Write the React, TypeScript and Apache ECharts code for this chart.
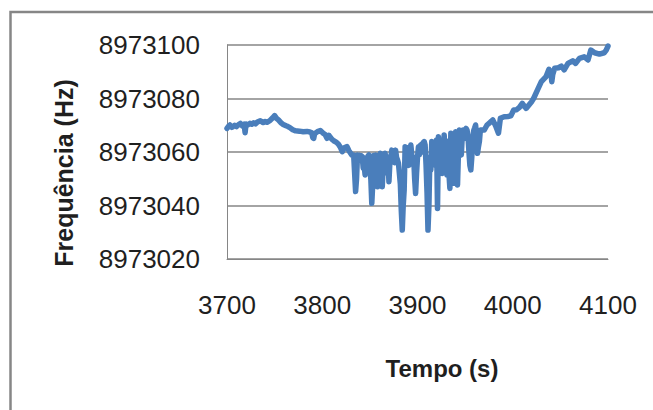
import React, { useEffect, useRef } from "react";
import * as echarts from "echarts";

// Elapsed time (s): slow drift before the disturbance
const timeBefore: number[] = [
  3700, 3702, 3703, 3705, 3706, 3708, 3710, 3712, 3714, 3716,
  3717, 3718, 3719, 3720, 3722, 3724, 3726, 3728, 3730, 3732,
  3735, 3738, 3740, 3742, 3745, 3748, 3750, 3752, 3754, 3757,
  3759, 3762, 3764, 3766, 3769, 3772, 3776, 3780, 3784, 3787,
  3789, 3790, 3791, 3792, 3795, 3798, 3801, 3803, 3805, 3807,
  3810, 3812, 3815, 3817, 3819, 3821, 3823, 3826, 3828,
];
const freqBefore: number[] = [
  8973068.8, 8973069.8, 8973070.1, 8973069.2, 8973069.4, 8973070.0, 8973069.5, 8973070.2, 8973070.7, 8973069.8,
  8973070.3, 8973070.4, 8973067.2, 8973070.5, 8973070.2, 8973070.7, 8973070.4, 8973070.9, 8973070.5, 8973071.2,
  8973071.7, 8973071.0, 8973071.4, 8973071.1, 8973071.7, 8973072.8, 8973073.6, 8973072.6, 8973072.0, 8973070.8,
  8973070.3, 8973069.8, 8973069.5, 8973069.1, 8973068.3, 8973067.9, 8973067.8, 8973067.6, 8973067.7, 8973067.5,
  8973067.2, 8973065.4, 8973065.1, 8973066.8, 8973067.6, 8973068.0, 8973067.0, 8973066.5, 8973065.1, 8973066.2,
  8973064.8, 8973064.2, 8973063.6, 8973062.9, 8973061.8, 8973060.1, 8973061.6, 8973062.0, 8973060.5,
];

// Disturbed interval, one reading per second
const timeDisturbed: number[] = [
  3831, 3833, 3834, 3835, 3836, 3837, 3838, 3839, 3840, 3841,
  3842, 3843, 3844, 3845, 3846, 3847, 3848, 3849, 3850, 3851,
  3852, 3853, 3854, 3855, 3856, 3857, 3858, 3859, 3860, 3861,
  3862, 3863, 3864, 3865, 3866, 3867, 3868, 3869, 3870, 3871,
  3872, 3873, 3874, 3875, 3876, 3877, 3878, 3879, 3880, 3881,
  3882, 3883, 3884, 3885, 3886, 3887, 3888, 3889, 3890, 3891,
  3892, 3893, 3894, 3895, 3896, 3897, 3898, 3899, 3900, 3901,
  3902, 3903, 3904, 3905, 3906, 3907, 3908, 3909, 3910, 3911,
  3912, 3913, 3914, 3915, 3916, 3917, 3918, 3919, 3920, 3921,
  3922, 3923, 3924, 3925, 3926, 3927, 3928, 3929, 3930, 3931,
  3932, 3933, 3934, 3935, 3936, 3937, 3938, 3939, 3940, 3941,
  3942, 3943, 3944, 3945, 3946, 3947, 3948, 3949, 3950, 3951,
  3952, 3953, 3954, 3955, 3956, 3957, 3958, 3959, 3960, 3961,
  3962, 3963, 3964, 3965, 3966,
];
const freqDisturbed: number[] = [
  8973058.9, 8973058.9, 8973052.0, 8973045.2, 8973050.0, 8973058.9, 8973056.5, 8973058.8, 8973057.0, 8973058.6,
  8973058.3, 8973054.0, 8973055.0, 8973051.4, 8973057.8, 8973055.5, 8973058.5, 8973058.9, 8973055.0, 8973050.0,
  8973040.8, 8973048.0, 8973058.7, 8973054.0, 8973058.9, 8973052.0, 8973047.0, 8973056.0, 8973053.0, 8973059.5,
  8973051.0, 8973047.0, 8973055.0, 8973052.0, 8973059.5, 8973056.0, 8973054.0, 8973058.0, 8973048.9, 8973056.0,
  8973058.0, 8973060.7, 8973057.5, 8973059.0, 8973056.0, 8973060.7, 8973058.0, 8973057.0, 8973055.8, 8973052.0,
  8973048.0, 8973038.0, 8973030.8, 8973040.0, 8973045.8, 8973062.0, 8973057.0, 8973061.0, 8973061.5, 8973055.0,
  8973060.5, 8973062.6, 8973059.0, 8973055.8, 8973058.0, 8973050.0, 8973044.5, 8973052.0, 8973058.0, 8973062.0,
  8973059.0, 8973062.5, 8973062.8, 8973060.0, 8973063.5, 8973063.9, 8973062.6, 8973055.0, 8973045.0, 8973030.8,
  8973040.0, 8973058.0, 8973053.3, 8973063.9, 8973055.0, 8973062.0, 8973063.0, 8973057.0, 8973064.5, 8973038.9,
  8973065.7, 8973060.0, 8973058.0, 8973063.0, 8973052.0, 8973057.0, 8973066.4, 8973055.0, 8973060.0, 8973051.4,
  8973064.0, 8973052.0, 8973046.4, 8973067.0, 8973055.0, 8973060.0, 8973048.3, 8973062.0, 8973067.6, 8973056.0,
  8973047.7, 8973060.0, 8973068.2, 8973063.0, 8973058.9, 8973066.0, 8973068.2, 8973065.0, 8973068.0, 8973068.8,
  8973068.2, 8973066.0, 8973060.0, 8973055.0, 8973053.3, 8973058.0, 8973064.5, 8973068.0, 8973069.0, 8973070.1,
  8973066.0, 8973059.5, 8973062.0, 8973064.0, 8973068.2,
];

// Recovery and upward drift
const timeAfter: number[] = [
  3970, 3973, 3976, 3979, 3982, 3985, 3987, 3991, 3995, 3998,
  4001, 4004, 4007, 4010, 4014, 4017, 4020, 4022, 4026, 4030,
  4035, 4038, 4040, 4041, 4042, 4044, 4048, 4051, 4054, 4058,
  4063, 4066, 4070, 4075, 4079, 4082, 4086, 4091, 4096, 4098,
  4100,
];
const freqAfter: number[] = [
  8973068.2, 8973070.1, 8973071.0, 8973072.0, 8973069.8, 8973067.0, 8973072.6, 8973073.2, 8973073.3, 8973073.5,
  8973075.7, 8973075.8, 8973076.7, 8973078.2, 8973076.3, 8973077.6, 8973078.9, 8973080.1, 8973083.2, 8973086.3,
  8973088.2, 8973090.9, 8973090.0, 8973086.3, 8973089.0, 8973091.3, 8973091.5, 8973092.1, 8973090.7, 8973093.1,
  8973094.1, 8973093.1, 8973095.0, 8973095.6, 8973094.4, 8973098.1, 8973097.1, 8973096.6, 8973097.1, 8973098.0,
  8973099.6,
];

const xTicks = { min: 3700, max: 4100, step: 100 };
const yTicks = { min: 8973020, max: 8973100, step: 20 };

const xTitle = "Tempo (s)";
const yTitle = "Frequência (Hz)";

const GRAY = "#868686";
const TEXT = "#1f1f1f";
const FONT = "'Liberation Sans', Arial, sans-serif";

export default function App() {
  const ref = useRef<HTMLDivElement>(null);

  useEffect(() => {
    document.body.style.margin = "0";
    if (!ref.current) return;
    const chart = echarts.init(ref.current, undefined, { renderer: "svg" });

    const times = [...timeBefore, ...timeDisturbed, ...timeAfter];
    const freqs = [...freqBefore, ...freqDisturbed, ...freqAfter];
    const points = times.map((t, i) => [t, freqs[i]]);

    chart.setOption({
      animation: false,
      backgroundColor: "#ffffff",
      grid: { left: 227, right: 45, top: 45, bottom: 151, containLabel: false },
      xAxis: {
        type: "value",
        min: xTicks.min,
        max: xTicks.max,
        interval: xTicks.step,
        axisLine: { show: true, lineStyle: { color: GRAY, width: 1 } },
        axisTick: { show: false },
        splitLine: { show: false },
        axisLabel: {
          color: TEXT,
          fontSize: 26,
          fontFamily: FONT,
          margin: 33,
          formatter: (v: number) => String(Math.round(v)),
        },
      },
      yAxis: {
        type: "value",
        min: yTicks.min,
        max: yTicks.max,
        interval: yTicks.step,
        axisLine: { show: true, lineStyle: { color: GRAY, width: 1 } },
        axisTick: { show: false },
        splitLine: { show: true, lineStyle: { color: GRAY, width: 1.5 } },
        axisLabel: {
          color: TEXT,
          fontSize: 26,
          fontFamily: FONT,
          margin: 27,
          formatter: (v: number) => String(Math.round(v)),
        },
      },
      graphic: [
        {
          type: "rect",
          silent: true,
          shape: { x: 10.5, y: 12, width: 800, height: 600 },
          style: { fill: "none", stroke: GRAY, lineWidth: 2.5 },
        },
        {
          type: "text",
          x: 442,
          y: 368,
          style: {
            text: xTitle,
            fill: TEXT,
            font: `bold 24px ${FONT}`,
            align: "center",
            verticalAlign: "middle",
          },
        },
        {
          type: "text",
          x: 64,
          y: 173,
          rotation: Math.PI / 2,
          style: {
            text: yTitle,
            fill: TEXT,
            font: `bold 25px ${FONT}`,
            align: "center",
            verticalAlign: "middle",
          },
        },
      ],
      series: [
        {
          type: "line",
          data: points,
          showSymbol: false,
          lineStyle: { color: "#4a7ebb", width: 5.5, cap: "round", join: "round" },
          clip: false,
        },
      ],
    });

    return () => chart.dispose();
  }, []);

  return <div ref={ref} style={{ width: 653, height: 410 }} />;
}
